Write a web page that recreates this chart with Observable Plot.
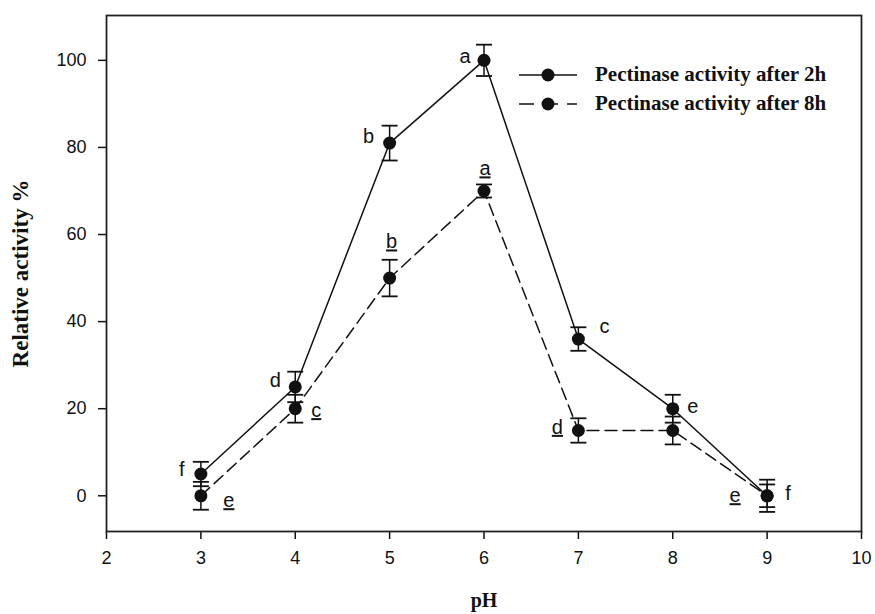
<!DOCTYPE html>
<html>
<head>
<meta charset="utf-8">
<script src="https://cdn.jsdelivr.net/npm/d3@7"></script>
<script src="https://cdn.jsdelivr.net/npm/@observablehq/plot@0.6"></script>
<style>
  html, body { margin: 0; padding: 0; background: #fff; }
  #wrap { position: relative; width: 875px; height: 614px; }
  .ul text { text-decoration: underline; }
  #legend { position: absolute; left: 518px; top: 60px; font-family: "Liberation Serif", "Times New Roman", serif; font-weight: bold; font-size: 21px; color: #111; }
  #legend .row { display: flex; align-items: center; height: 29px; }
  #legend svg { margin-right: 17px; }
</style>
</head>
<body>
<div id="wrap"></div>
<script>
// ---- data ----
const pH = [3, 4, 5, 6, 7, 8, 9];
const act2h = [5, 25, 81, 100, 36, 20, 0];
const err2h = [2.8, 3.5, 4.0, 3.6, 2.7, 3.2, 3.7];
const act8h = [0, 20, 50, 70, 15, 15, 0];
const err8h = [3.2, 3.2, 4.2, 1.5, 2.8, 3.2, 2.6];
const letters2h = ["f", "d", "b", "a", "c", "e", "f"];
const letters8h = ["e", "c", "b", "a", "d", "", "e"];
const xTicks = [2, 3, 4, 5, 6, 7, 8, 9, 10];
const yTicks = [0, 20, 40, 60, 80, 100];
const seriesNames = ["Pectinase activity after 2h", "Pectinase activity after 8h"];

// label placement (pixel offsets from each point)
const off2h = [[-19, -4], [-20, -6], [-21, -6], [-19, -4], [26, -12], [20, -2], [21, -2]];
const off8h = [[28, 5], [21, 2], [2, -36], [1, -22], [-21, -3], [0, 0], [-32, 0]];

const rows2h = pH.map((x, i) => ({x, v: act2h[i], e: err2h[i], t: letters2h[i]}));
const rows8h = pH.map((x, i) => ({x, v: act8h[i], e: err8h[i], t: letters8h[i]}));

const ink = "#111";
const cap = { draw(ctx) { ctx.moveTo(-8, 0); ctx.lineTo(8, 0); } };

function seriesMarks(rows, dash) {
  return [
    Plot.line(rows, {x: "x", y: "v", stroke: ink, strokeWidth: 1.5, strokeDasharray: dash}),
    Plot.ruleX(rows, {x: "x", y1: d => d.v - d.e, y2: d => d.v + d.e, stroke: ink, strokeWidth: 1.5}),
    Plot.dot(rows, {x: "x", y: d => d.v + d.e, symbol: cap, fill: "none", stroke: ink, strokeWidth: 1.8}),
    Plot.dot(rows, {x: "x", y: d => d.v - d.e, symbol: cap, fill: "none", stroke: ink, strokeWidth: 1.8}),
    Plot.dot(rows, {x: "x", y: "v", r: 6.5, fill: ink, stroke: "none"})
  ];
}

function labelMarks(rows, offs, underline) {
  return rows.filter(d => d.t).map(d => {
    const o = offs[rows.indexOf(d)];
    return Plot.text([d], {x: "x", y: "v", text: "t", dx: o[0], dy: o[1], fontSize: 20,
      fill: ink, lineAnchor: "middle", textAnchor: "middle", className: underline ? "ul" : undefined});
  });
}

const serif = "'Liberation Serif', 'Times New Roman', serif";

const chart = Plot.plot({
  width: 875,
  height: 614,
  marginLeft: 106,
  marginRight: 14,
  marginTop: 15,
  marginBottom: 83,
  style: {fontFamily: "'Liberation Sans', Arial, sans-serif", fontSize: "18px", color: ink, background: "#fff"},
  x: {domain: [2, 10]},
  y: {domain: [-8.2, 110.3]},
  marks: [
    Plot.axisX({ticks: xTicks, tickSize: 8, tickPadding: 12, fontSize: 18, label: null, strokeWidth: 1.5}),
    Plot.axisY({ticks: yTicks, tickSize: 8, tickPadding: 12, fontSize: 18, label: null, strokeWidth: 1.5}),
    Plot.text(["Relative activity %"], {frameAnchor: "left", dx: -86, rotate: -90, text: d => d, textAnchor: "middle",
      fontFamily: serif, fontWeight: "bold", fontSize: 23, fill: ink, lineAnchor: "middle"}),
    Plot.text(["pH"], {frameAnchor: "bottom", dy: 69, text: d => d, textAnchor: "middle",
      fontFamily: serif, fontWeight: "bold", fontSize: 20, fill: ink, lineAnchor: "middle"}),
    ...seriesMarks(rows8h, "12,6"),
    ...seriesMarks(rows2h, null),
    ...labelMarks(rows2h, off2h, false),
    ...labelMarks(rows8h, off8h, true),
    Plot.frame({stroke: "#222", strokeWidth: 1.8})
  ]
});

const wrap = document.getElementById("wrap");
wrap.appendChild(chart);

// legend overlay
const legend = document.createElement("div");
legend.id = "legend";
[null, "15,9"].forEach((dash, i) => {
  const row = document.createElement("div");
  row.className = "row";
  const s = d3.create("svg").attr("width", 60).attr("height", 20);
  s.append("line").attr("x1", 1).attr("x2", 59).attr("y1", 10).attr("y2", 10)
    .attr("stroke", ink).attr("stroke-width", 1.5).attr("stroke-dasharray", dash);
  s.append("circle").attr("cx", 30).attr("cy", 10).attr("r", 6.5).attr("fill", ink);
  row.appendChild(s.node());
  const t = document.createElement("span");
  t.textContent = seriesNames[i];
  row.appendChild(t);
  legend.appendChild(row);
});
wrap.appendChild(legend);
</script>
</body>
</html>
